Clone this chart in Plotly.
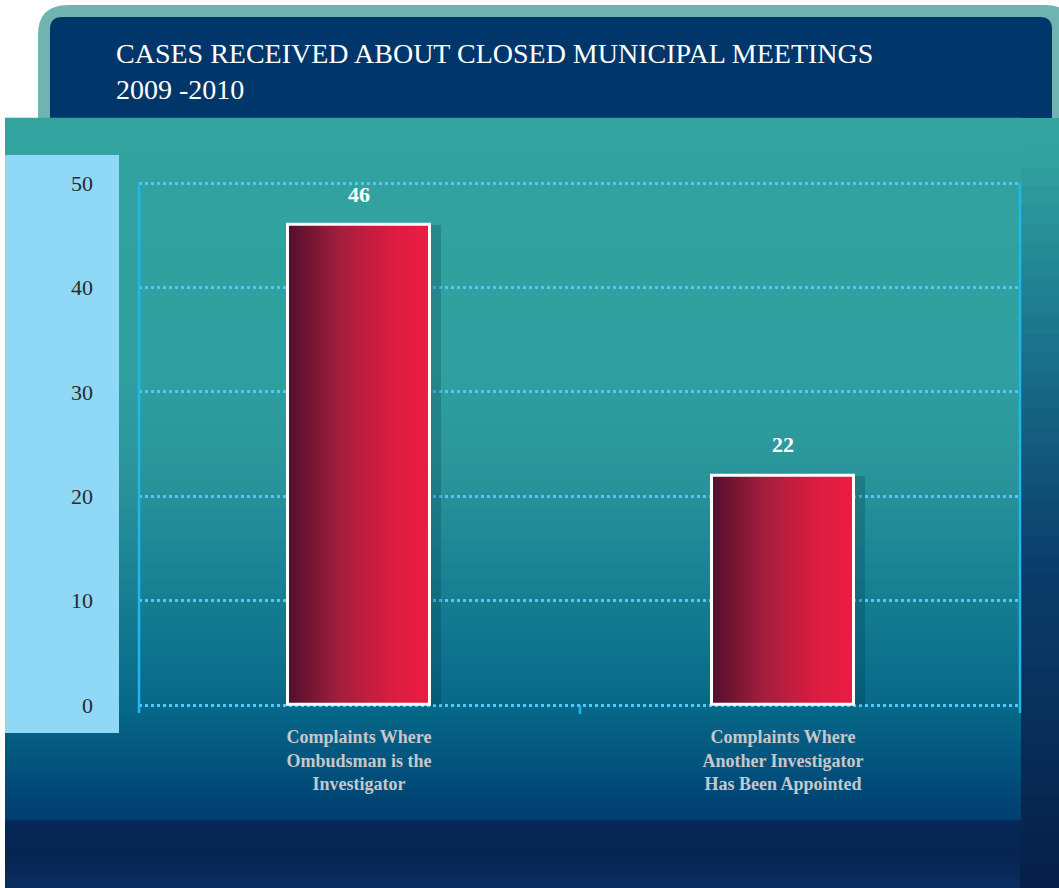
import plotly.graph_objects as go

# ---- data ----
categories = ["Complaints Where<br>Ombudsman is the<br>Investigator",
              "Complaints Where<br>Another Investigator<br>Has Been Appointed"]
values = [46, 22]
value_labels = ["46", "22"]
y_ticks = [0, 10, 20, 30, 40, 50]
title_lines = ["CASES RECEIVED ABOUT CLOSED MUNICIPAL MEETINGS", "2009 -2010"]

W, H = 1059, 888
SERIF = "Liberation Serif, DejaVu Serif, serif"


def px(x):
    return x / W


def py(y):
    return 1 - y / H


def hex2rgb(h):
    h = h.lstrip("#")
    return tuple(int(h[i:i + 2], 16) for i in (0, 2, 4))


def lerp_color(stops, t):
    for i in range(len(stops) - 1):
        t0, c0 = stops[i]
        t1, c1 = stops[i + 1]
        if t0 <= t <= t1:
            f = 0 if t1 == t0 else (t - t0) / (t1 - t0)
            a, b = hex2rgb(c0), hex2rgb(c1)
            return "rgb(%d,%d,%d)" % tuple(round(a[k] + (b[k] - a[k]) * f) for k in range(3))
    return stops[-1][1]


shapes = []


def rect(x0, y0, x1, y1, color, layer="below"):
    shapes.append(dict(type="rect", xref="paper", yref="paper",
                       x0=px(x0), x1=px(x1), y0=py(y1), y1=py(y0),
                       fillcolor=color, line=dict(width=0), layer=layer))


def vgrad(x0, y0, x1, y1, stops, n=60):
    h = (y1 - y0) / n
    for i in range(n):
        t = (i + 0.5) / n
        rect(x0, y0 + i * h - 0.3, x1, y0 + (i + 1) * h + 0.3, lerp_color(stops, t))


def rounded_top(x0, y0, x1, y1, r, color):
    X = lambda v: px(v)
    Y = lambda v: py(v)
    path = (f"M {X(x0)},{Y(y1)} L {X(x0)},{Y(y0 + r)} "
            f"Q {X(x0)},{Y(y0)} {X(x0 + r)},{Y(y0)} "
            f"L {X(x1 - r)},{Y(y0)} Q {X(x1)},{Y(y0)} {X(x1)},{Y(y0 + r)} "
            f"L {X(x1)},{Y(y1)} Z")
    shapes.append(dict(type="path", xref="paper", yref="paper", path=path,
                       fillcolor=color, line=dict(width=0), layer="below"))


# background: dark textured area (approximated)
vgrad(0, 118, W, H, [(0, "#1c6d86"), (0.35, "#0c4070"), (1, "#051f48")], n=40)
# bottom dark strip
vgrad(5, 820, W, H, [(0, "#06285a"), (0.5, "#072552"), (1, "#0a2c5e")], n=10)
# white areas
rect(0, 0, W, 118, "white")
rect(0, 0, 5, H, "white")
# outer frame & title box
rounded_top(38, 5, 1075, 130, 30, "#70b4b2")
rounded_top(50, 17, 1052, 130, 12, "#00366a")
# teal panel
rect(5, 118, W, 160, "#33a3a0")
vgrad(1020, 150, W, 888, [(0, "#33a3a0"), (0.2, "#1f7f92"), (0.55, "#0b3f6c"), (1, "#061f48")], n=40)
vgrad(5, 118, 1021, 820, [(0, "#33a3a0"), (0.35, "#30a0a0"), (0.5, "#2a969b"),
                          (0.72, "#127a90"), (0.85, "#066688"), (1, "#003d70")], n=90)
# light blue y-axis box
rect(5, 155, 119, 733, "#8fd9f6")

# axis vertical lines and middle tick
for xv in (139, 1020):
    shapes.append(dict(type="line", xref="paper", yref="paper",
                       x0=px(xv), x1=px(xv), y0=py(183), y1=py(713),
                       line=dict(color="#1cb8ee", width=2.5), layer="above"))
shapes.append(dict(type="line", xref="paper", yref="paper",
                   x0=px(580), x1=px(580), y0=py(705), y1=py(714),
                   line=dict(color="#1cb8ee", width=2.5), layer="above"))

# ---- bars ----
bw = 0.335
fig = go.Figure()

# shadow
fig.add_trace(go.Bar(x=categories, y=values, width=bw, offset=-bw / 2 + 0.025,
                     marker=dict(color="rgba(0,40,60,0.22)", line=dict(width=0)),
                     hoverinfo="skip", showlegend=False))
# gradient strips
N = 36
grad_stops = [(0, "#520f2e"), (0.35, "#a01e3c"), (0.7, "#d81c40"), (1, "#ee1c42")]
for k in range(N):
    t = (k + 0.5) / N
    fig.add_trace(go.Bar(x=categories, y=values, width=bw / N + 0.002,
                         offset=-bw / 2 + k * bw / N,
                         marker=dict(color=lerp_color(grad_stops, t), line=dict(width=0)),
                         hoverinfo="skip", showlegend=False))
# white outline
fig.add_trace(go.Bar(x=categories, y=values, width=bw, offset=-bw / 2,
                     marker=dict(color="rgba(0,0,0,0)", line=dict(color="white", width=3)),
                     showlegend=False))

annotations = []
for c, v, lab in zip(categories, values, value_labels):
    annotations.append(dict(x=c, y=v, xref="x", yref="y", text=f"<b>{lab}</b>",
                            showarrow=False, yanchor="bottom", yshift=16,
                            font=dict(family=SERIF, size=22, color="white")))
annotations.append(dict(x=px(114), y=py(36), xref="paper", yref="paper",
                        xanchor="left", yanchor="top", align="left",
                        text="<br>".join(title_lines), showarrow=False,
                        font=dict(family=SERIF, size=28, color="white")))

# y range padded so the 0 and 50 gridlines stay inside the plot area
ypad = 0.5
unit = (705 - 183) / 50.0
fig.update_layout(
    width=W, height=H,
    margin=dict(l=0, r=0, t=0, b=0, autoexpand=False),
    paper_bgcolor="#082c5a", plot_bgcolor="rgba(0,0,0,0)",
    barmode="overlay", bargap=0,
    shapes=shapes, annotations=annotations,
    xaxis=dict(domain=[px(139), px(1020)], range=[-0.519, 1.559],
               showline=False, showgrid=False, zeroline=False, ticks="",
               tickfont=dict(family=SERIF, size=18, color="#c6c8ca"),
               ticklabelstandoff=14),
    yaxis=dict(domain=[py(705 + ypad * unit), py(183 - ypad * unit)],
               range=[-ypad, 50 + ypad],
               tickvals=y_ticks, ticktext=[str(v) for v in y_ticks],
               showline=False, zeroline=False, ticks="",
               showgrid=True, gridcolor="#58c6f2", gridwidth=2.5, griddash="dot",
               tickfont=dict(family=SERIF, size=22, color="#2a2a2a"),
               ticklabelstandoff=45),
    font=dict(family=SERIF),
)
# make category labels bold
fig.update_xaxes(tickvals=categories, ticktext=[f"<b>{c}</b>" for c in categories])

fig.write_html("out.html", config={"displayModeBar": False},
               post_script="document.body.style.margin='0';document.body.style.overflow='hidden';")
